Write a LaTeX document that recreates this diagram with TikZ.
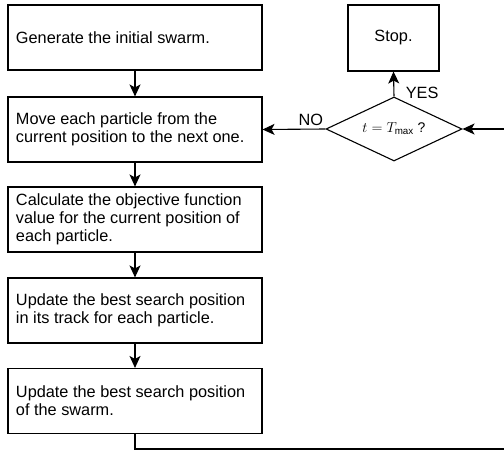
\documentclass[tikz,border=0pt]{standalone}
\usepackage{fontspec}
\setmainfont{Liberation Sans}
\usetikzlibrary{shapes.geometric,arrows.meta}

\begin{document}
\begin{tikzpicture}[x=1pt,y=-1pt,line width=1.1pt,
    every node/.style={font=\fontsize{16.3}{18}\selectfont},
    stepbox/.style={draw,rectangle,minimum width=254pt,minimum height=65pt,
      text width=238pt,inner xsep=8pt,align=flush left},
    decision/.style={draw,diamond,minimum width=136pt,minimum height=64pt,
      inner sep=0pt,aspect=2.1},
    flow/.style={-{Stealth[length=12pt,width=11pt,inset=3pt]}}
  ]
  \useasboundingbox (0,0) rectangle (504,452);
  \node[stepbox] (gen) at (135,37.5) {Generate the initial swarm.};
  \node[stepbox] (move) at (135,129.5) {Move each particle from the current position to the next one.};
  \node[stepbox] (calc) at (135,219.5) {Calculate the objective function value for the current position of each particle.};
  \node[stepbox] (track) at (135,310.5) {Update the best search position in its track for each particle.};
  \node[stepbox] (swarm) at (135,401) {Update the best search position of the swarm.};
  \node[draw,minimum width=91pt,minimum height=66pt] (stop) at (393.5,38) {Stop.};
  \node[decision] (check) at (394,129) {\fontsize{14}{14}\selectfont $t = T_{\max}$ ?};
  \coordinate (loopb) at (135,449);
  \coordinate (loopr) at (512,449);

  \draw[flow] (gen) -- (move);
  \draw[flow] (move) -- (calc);
  \draw[flow] (calc) -- (track);
  \draw[flow] (track) -- (swarm);
  \draw[flow] (swarm.south) -- (loopb) -- (loopr) |- (check.east);
  \draw[flow] (check.north) -- node[right,pos=0.15,xshift=8pt] {YES} (stop.south);
  \draw[flow] (check.west) -- node[above,pos=0.2,xshift=-2pt] {NO} (move.east);
\end{tikzpicture}
\end{document}
